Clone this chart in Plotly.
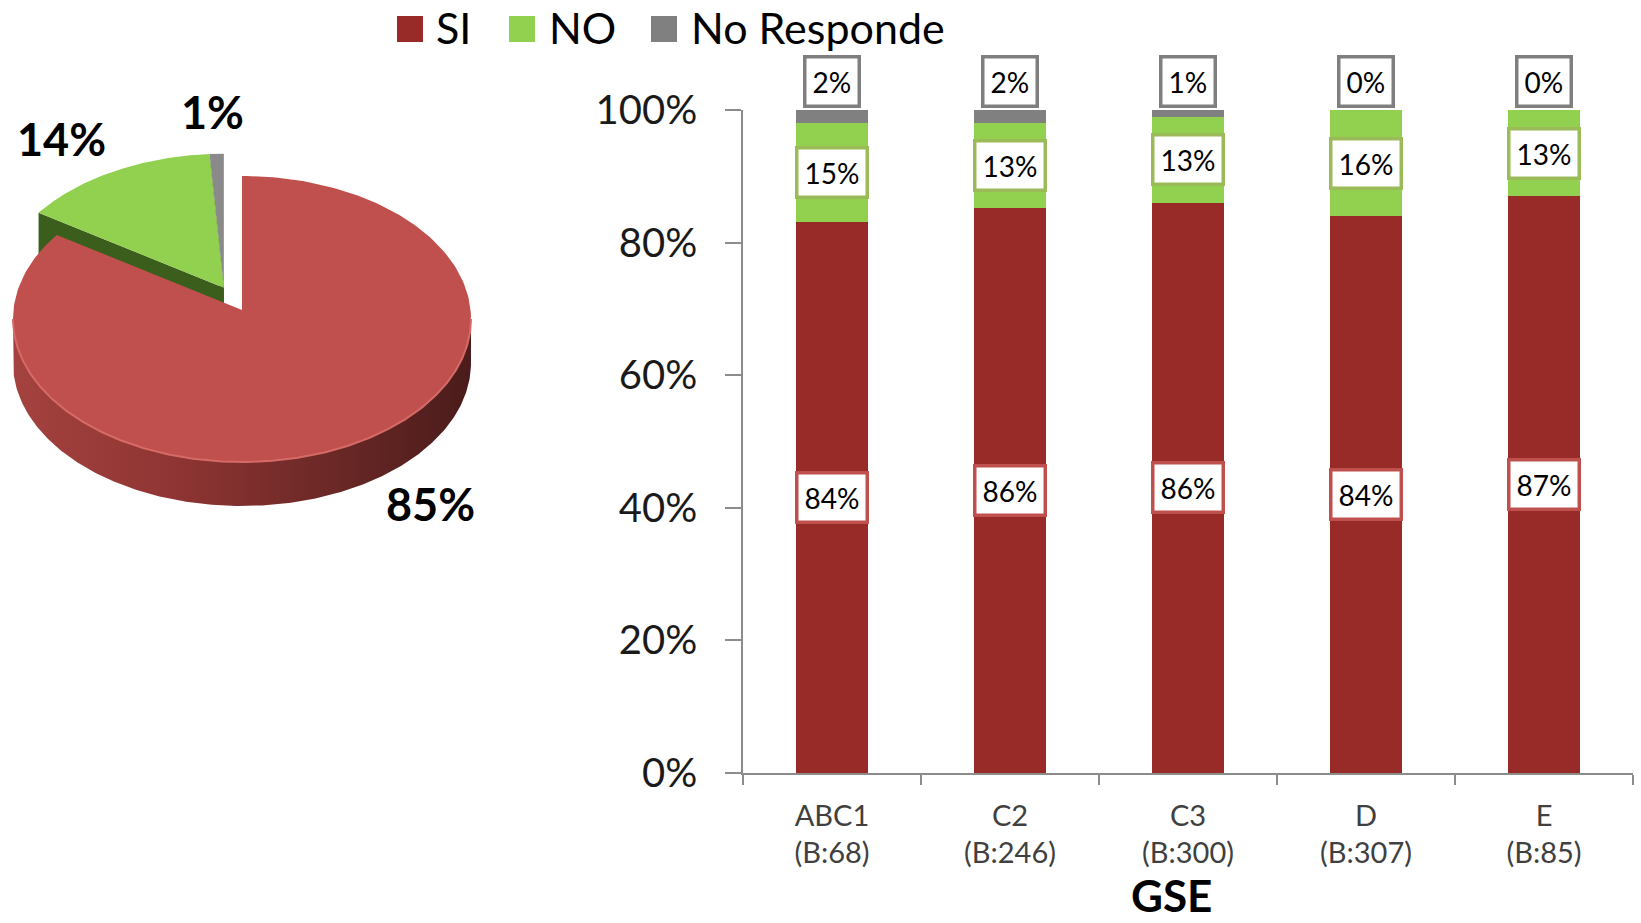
import numpy as np
import plotly.graph_objects as go

W, H = 1641, 923

# Overall answer (3-D style pie)
pie_labels = ["SI", "NO", "No Responde"]
pie_values = [85, 14, 1]

# Answer by socio-economic group (100% stacked bars)
groups = ["ABC1", "C2", "C3", "D", "E"]
bases = [68, 246, 300, 307, 85]
si_values = [84, 86, 86, 84, 87]
no_values = [15, 13, 13, 16, 13]
nr_values = [2, 2, 1, 0, 0]
y_ticks = [0, 20, 40, 60, 80, 100]

FONT = "Lato"
BAR_RED = "#982A28"
GREEN = "#92D050"
GRAY = "#808080"
BOX_RED = "#C0504D"
BOX_GREEN = "#9BBB59"
BOX_GRAY = "#7F7F7F"
AXIS_GRAY = "#8C8C8C"

fig = go.Figure()

# ---------------- stacked bars ----------------
cats = [f"{g}<br>(B:{b})" for g, b in zip(groups, bases)]
for name, vals, col in [("SI", si_values, BAR_RED),
                        ("NO", no_values, GREEN),
                        ("No Responde", nr_values, GRAY)]:
    fig.add_trace(go.Bar(
        x=cats, y=vals, name=name, width=0.4,
        marker=dict(color=col, line=dict(width=0)),
        showlegend=False, hoverinfo="skip", xaxis="x", yaxis="y"))

annotations = []
for i in range(len(groups)):
    tot = si_values[i] + no_values[i] + nr_values[i]
    si_n = si_values[i] / tot * 100
    no_n = no_values[i] / tot * 100
    for val, ypos, border, anchor, shift in [
        (si_values[i], si_n / 2, BOX_RED, "middle", 0),
        (no_values[i], si_n + no_n / 2, BOX_GREEN, "middle", 0),
        (nr_values[i], 100, BOX_GRAY, "bottom", 2),
    ]:
        annotations.append(dict(
            x=i, y=ypos, xref="x", yref="y", text=f"{val}%", showarrow=False,
            yanchor=anchor, yshift=shift,
            font=dict(family=FONT, size=28, color="#000"),
            bgcolor="white", bordercolor=border, borderwidth=3.5, borderpad=6))

# ---------------- pie drawn as projected ellipse ----------------
cx, cy = 242.0, 319.0     # centre of the top face
rx, ry = 229.0, 143.0     # ellipse radii of the top face
depth = 44.0              # thickness of the disc
apex_lift = 9.0           # perspective shift of the slice apex
explode = 40.0            # pull-out distance for the smaller slices


def ell(theta_deg, dx=0.0, dy=0.0):
    t = np.radians(theta_deg)
    return cx + rx * np.sin(t) + dx, cy - ry * np.cos(t) + dy


total = sum(pie_values)
bounds = np.concatenate([[0], np.cumsum(pie_values)]) / total * 360.0
rest_mid = np.radians((bounds[1] + 360.0) / 2)
off_x = explode * np.sin(rest_mid)
off_y = -explode * np.cos(rest_mid) * ry / rx

top_cols = ["#C0504D", GREEN, "#8A8A8A"]
face_cols = [None, "#3C5E1D", "#3F3F3F"]


def wedge(a0, a1, dx, dy):
    th = np.linspace(a0, a1, 240)
    px, py = ell(th, dx, dy)
    ax, ay = cx + dx, cy - apex_lift + dy
    return np.concatenate([[ax], px, [ax]]), np.concatenate([[ay], py, [ay]])


def poly(xs, ys, **kw):
    fig.add_trace(go.Scatter(
        x=xs, y=ys, mode="lines", fill="toself", line=dict(width=0),
        hoverinfo="skip", showlegend=False, xaxis="x2", yaxis="y2", **kw))


# small slices first (they sit behind the large one)
for k in [2, 1]:
    a0, a1 = bounds[k], bounds[k + 1]
    dx, dy = off_x, off_y
    ax, ay = cx + dx, cy - apex_lift + dy
    ox, oy = ell(a0, dx, dy)
    poly([ax, ox, ox, ax, ax], [ay, oy, oy + depth, ay + depth, ay],
         fillcolor=face_cols[k])
    xs, ys = wedge(a0, a1, dx, dy)
    poly(xs, ys, fillcolor=top_cols[k])

# outer wall of the large slice (front half only)
a0, a1 = max(bounds[0], 90.0), min(bounds[1], 270.0)
th = np.linspace(a0, a1, 300)
wx, wy = ell(th)
poly(np.concatenate([wx, wx[::-1], [wx[0]]]),
     np.concatenate([wy, wy[::-1] + depth, [wy[0]]]),
     fillcolor="#8A3230",
     fillgradient=dict(type="horizontal",
                       colorscale=[[0, "#A4423F"], [0.35, "#8F3533"],
                                   [0.7, "#6A2826"], [1, "#4A1C1B"]]))
xs, ys = wedge(bounds[0], bounds[1], 0, 0)
poly(xs, ys, fillcolor=top_cols[0])
fig.add_trace(go.Scatter(
    x=wx, y=wy, mode="lines", line=dict(color="#D66A66", width=2),
    hoverinfo="skip", showlegend=False, xaxis="x2", yaxis="y2"))

pie_label_pos = [(430, 504), (61, 139), (212, 112)]
for v, (lx, ly) in zip(pie_values, pie_label_pos):
    annotations.append(dict(
        x=lx, y=ly, xref="x2", yref="y2", text=f"<b>{v}%</b>", showarrow=False,
        font=dict(family=FONT, size=45, color="#000")))

# ---------------- legend ----------------
shapes = []
legend_items = [("SI", BAR_RED, 397, 434), ("NO", GREEN, 509, 547),
                ("No Responde", GRAY, 651, 689)]
for name, col, sx, tx in legend_items:
    shapes.append(dict(type="rect", xref="paper", yref="paper",
                       x0=sx / W, x1=(sx + 26) / W, y0=1 - 42 / H, y1=1 - 16 / H,
                       fillcolor=col, line=dict(width=0)))
    annotations.append(dict(x=tx / W, y=1 - 28 / H, xref="paper", yref="paper",
                            text=name, showarrow=False, xanchor="left",
                            yanchor="middle",
                            font=dict(family=FONT, size=43, color="#000")))

annotations.append(dict(x=1171 / W, y=0, xref="paper", yref="paper",
                        text="<b>GSE</b>", showarrow=False,
                        xanchor="center", yanchor="bottom",
                        font=dict(family=FONT, size=44, color="#000")))

fig.update_layout(
    template="none",
    width=W, height=H, margin=dict(l=0, r=0, t=0, b=0, pad=0),
    paper_bgcolor="white", plot_bgcolor="rgba(0,0,0,0)",
    barmode="stack", barnorm="percent",
    showlegend=False,
    annotations=annotations, shapes=shapes,
    xaxis=dict(domain=[743 / W, 1633 / W], type="category", automargin=False,
               showline=True, linecolor=AXIS_GRAY, linewidth=1.5,
               ticks="outside", tickson="boundaries", ticklen=10,
               tickcolor=AXIS_GRAY, tickwidth=1.5, ticklabelstandoff=16,
               tickfont=dict(family=FONT, size=29, color="#404040"),
               showgrid=False, zeroline=False, fixedrange=True),
    yaxis=dict(domain=[1 - 773 / H, 1 - 110 / H], range=[0, 100],
               automargin=False,
               tickvals=y_ticks, ticktext=[f"{t}%" for t in y_ticks],
               showline=True, linecolor=AXIS_GRAY, linewidth=1.5,
               ticks="outside", ticklen=16, tickcolor=AXIS_GRAY, tickwidth=1.5,
               ticklabelstandoff=20,
               tickfont=dict(family=FONT, size=40, color="#1A1A1A"),
               showgrid=False, zeroline=False, fixedrange=True),
    xaxis2=dict(domain=[0, 500 / W], range=[0, 500], visible=False,
                automargin=False, fixedrange=True),
    yaxis2=dict(domain=[1 - 540 / H, 1], range=[540, 0], visible=False,
                automargin=False, fixedrange=True),
)

fig.write_html("out.html")
